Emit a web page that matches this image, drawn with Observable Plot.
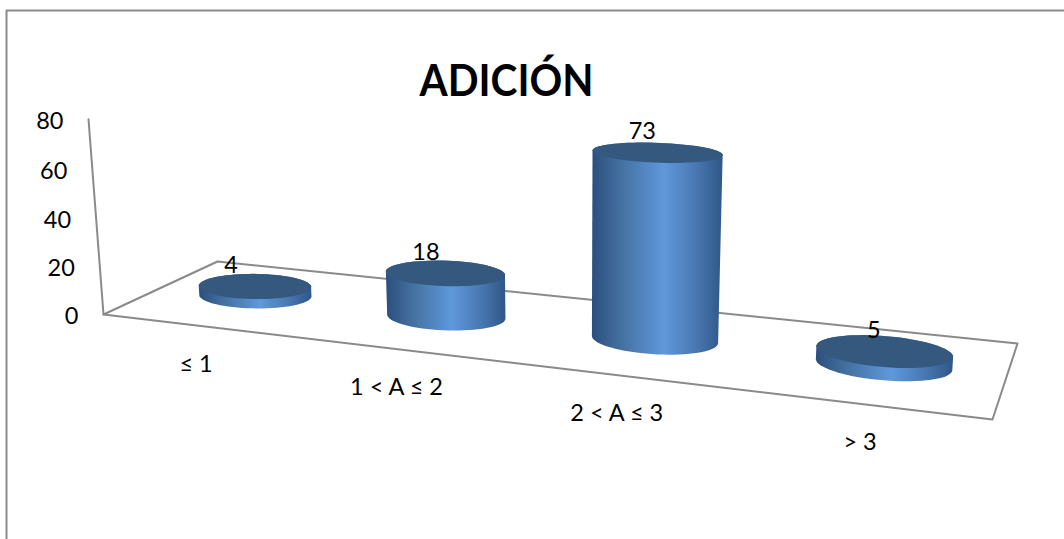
<!DOCTYPE html>
<html>
<head>
<meta charset="utf-8">
<script src="https://cdn.jsdelivr.net/npm/d3@7"></script>
<script src="https://cdn.jsdelivr.net/npm/@observablehq/plot@0.6"></script>
<style>
  html, body { margin: 0; padding: 0; background: #fff; overflow: hidden; }
  svg { display: block; }
</style>
</head>
<body>
<div id="chart"></div>
<script>
// Chart content
const chartTitle = "ADICIÓN";
const categories = ["≤ 1", "1 < A ≤ 2", "2 < A ≤ 3", "> 3"];
const counts = [4, 18, 73, 5];
const valueTicks = [0, 20, 40, 60, 80];

// Camera: floor corners and the point where verticals converge
const floorFrontLeft = [103, 314];
const floorFrontRight = [992, 419];
const floorBackRight = [1017, 343];
const floorBackLeft = [217, 261];
const vanishing = [571, 6410];
const heightFactor = -0.000388;

// Unit square to quadrilateral homography
function squareToQuad(p0, p1, p2, p3) {
  const dx1 = p1[0] - p2[0], dx2 = p3[0] - p2[0], sx = p0[0] - p1[0] + p2[0] - p3[0];
  const dy1 = p1[1] - p2[1], dy2 = p3[1] - p2[1], sy = p0[1] - p1[1] + p2[1] - p3[1];
  const den = dx1 * dy2 - dx2 * dy1;
  const g = (sx * dy2 - dx2 * sy) / den;
  const h = (dx1 * sy - sx * dy1) / den;
  return {
    a: p1[0] - p0[0] + g * p1[0], b: p3[0] - p0[0] + h * p3[0], c: p0[0],
    d: p1[1] - p0[1] + g * p1[1], e: p3[1] - p0[1] + h * p3[1], f: p0[1],
    g, h
  };
}
const H = squareToQuad(floorFrontLeft, floorFrontRight, floorBackRight, floorBackLeft);

// u runs along the categories, w runs front to back, v is the value
function project(u, w, v) {
  const k = v * heightFactor;
  const W = H.g * u + H.h * w + 1 + k;
  return [
    (H.a * u + H.b * w + H.c + k * vanishing[0]) / W,
    (H.d * u + H.e * w + H.f + k * vanishing[1]) / W
  ];
}

const slot = (i) => (i + 0.5) / categories.length;
const radiusU = 0.0705, radiusW = 0.21, midW = 0.52;
const angles = d3.range(0, 73).map((i) => (i * Math.PI) / 36);
const disc = (i, v) => angles.map((t) =>
  project(slot(i) + radiusU * Math.cos(t), midW + radiusW * Math.sin(t), v));

// One closed outline per cylinder, plus its lid
const bodies = counts.flatMap((value, i) => {
  const hull = d3.polygonHull([...disc(i, 0), ...disc(i, value)]);
  return [...hull, hull[0]].map(([x, y]) => ({ x, y, i }));
});
const lids = counts.flatMap((value, i) => disc(i, value).map(([x, y]) => ({ x, y, i })));

const floorOutline = [floorBackLeft, floorFrontLeft, floorFrontRight, floorBackRight, floorBackLeft];
const wallAxis = [project(0, 0, 0), project(0, 0, 80)];
const chartBorder = [[6, 539], [6, 10], [1064, 10]];

const labelFont = "Lato, sans-serif";
const axisColor = "#8a8a8a";

const shading = () => {
  const g = d3.create("svg:defs");
  const grad = g.append("linearGradient").attr("id", "cylinderShade")
    .attr("x1", 0).attr("x2", 1).attr("y1", 0).attr("y2", 0);
  [[0, "#2b4f7e"], [0.22, "#44709f"], [0.55, "#5f98dc"], [0.8, "#4877b0"], [1, "#2f5787"]]
    .forEach(([o, c]) => grad.append("stop").attr("offset", o).attr("stop-color", c));
  return g.node();
};

const chart = Plot.plot({
  width: 1064,
  height: 539,
  margin: 0,
  x: { type: "linear", domain: [0, 1064], range: [0, 1064], axis: null },
  y: { type: "linear", domain: [0, 539], range: [0, 539], axis: null },
  style: { background: "#fff", fontFamily: labelFont },
  marks: [
    shading,
    Plot.line(chartBorder, { x: "0", y: "1", stroke: axisColor, strokeWidth: 2 }),
    Plot.line(floorOutline, { x: "0", y: "1", stroke: axisColor, strokeWidth: 2 }),
    Plot.line(wallAxis, { x: "0", y: "1", stroke: axisColor, strokeWidth: 2 }),
    Plot.line(bodies, { x: "x", y: "y", z: "i", fill: "url(#cylinderShade)", stroke: "none" }),
    Plot.line(lids, { x: "x", y: "y", z: "i", fill: "#35587f", stroke: "none" }),
    Plot.text(valueTicks, {
      x: (v) => project(0, 0, v)[0] - 25,
      y: (v) => project(0, 0, v)[1] + 2,
      text: (v) => String(v),
      textAnchor: "end", fontSize: 23.5, fill: "#000"
    }),
    Plot.text(categories, {
      x: (c, i) => project(slot(i), 0, 0)[0] - 1,
      y: (c, i) => project(slot(i), 0, 0)[1] + 38.5,
      text: (c) => c,
      fontSize: 23.5, fill: "#000"
    }),
    Plot.text(counts, {
      x: (c, i) => project(slot(i), midW, c)[0] - 26 + 18 * slot(i),
      y: (c, i) => project(slot(i), midW, c)[1] - 20.5,
      text: (c) => String(c),
      fontSize: 23.5, fill: "#000"
    }),
    Plot.text([chartTitle], {
      x: () => 506, y: () => 81, text: (d) => d,
      fontSize: 44, fontWeight: 700, fill: "#000",
      // Condense the heading slightly to keep its tall, narrow proportions
      render(index, scales, values, dimensions, context, next) {
        const g = next(index, scales, values, dimensions, context);
        g.querySelectorAll("text").forEach((t) => {
          t.setAttribute("textLength", 174);
          t.setAttribute("lengthAdjust", "spacingAndGlyphs");
        });
        return g;
      }
    })
  ]
});
document.getElementById("chart").appendChild(chart);
</script>
</body>
</html>
